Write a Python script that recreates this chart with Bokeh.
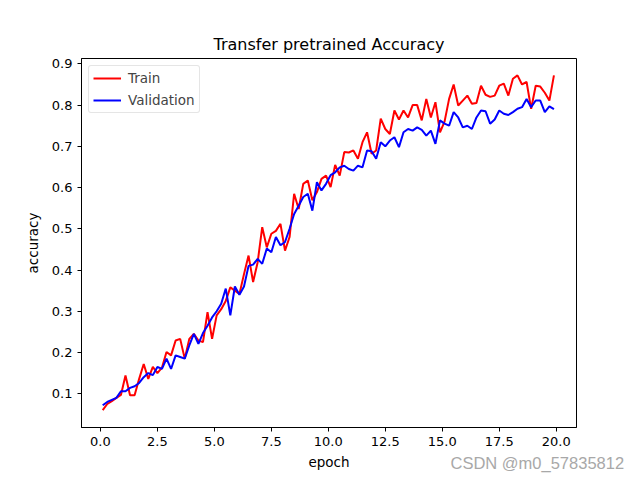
from bokeh.plotting import figure
from bokeh.models import Range1d, FixedTicker, PrintfTickFormatter, Title, Legend, LegendItem
from bokeh.embed import file_html
from bokeh.resources import INLINE

epochs = [round(0.1 + 0.2 * i, 1) for i in range(100)]

train_acc = [
    0.060, 0.075, 0.082, 0.090, 0.097, 0.144, 0.096, 0.096, 0.136, 0.172,
    0.136, 0.165, 0.150, 0.163, 0.201, 0.193, 0.229, 0.233, 0.185, 0.233,
    0.245, 0.229, 0.225, 0.298, 0.233, 0.290, 0.305, 0.325, 0.358, 0.350,
    0.342, 0.390, 0.435, 0.371, 0.419, 0.504, 0.455, 0.488, 0.495, 0.512,
    0.447, 0.480, 0.585, 0.548, 0.609, 0.617, 0.569, 0.589, 0.621, 0.629,
    0.601, 0.655, 0.629, 0.686, 0.685, 0.690, 0.670, 0.710, 0.734, 0.682,
    0.690, 0.767, 0.742, 0.730, 0.787, 0.765, 0.787, 0.770, 0.800, 0.800,
    0.763, 0.815, 0.770, 0.807, 0.734, 0.760, 0.815, 0.850, 0.799, 0.811,
    0.823, 0.803, 0.805, 0.847, 0.825, 0.820, 0.823, 0.847, 0.852, 0.823,
    0.864, 0.872, 0.850, 0.856, 0.791, 0.847, 0.845, 0.830, 0.811, 0.872,
]

val_acc = [
    0.072, 0.080, 0.085, 0.090, 0.106, 0.106, 0.114, 0.118, 0.126, 0.140,
    0.150, 0.145, 0.165, 0.160, 0.185, 0.160, 0.193, 0.189, 0.185, 0.217,
    0.245, 0.221, 0.247, 0.265, 0.285, 0.300, 0.318, 0.355, 0.290, 0.360,
    0.340, 0.360, 0.410, 0.413, 0.427, 0.415, 0.452, 0.443, 0.480, 0.460,
    0.468, 0.500, 0.536, 0.556, 0.577, 0.585, 0.544, 0.613, 0.593, 0.609,
    0.630, 0.637, 0.649, 0.653, 0.645, 0.641, 0.653, 0.649, 0.690, 0.688,
    0.670, 0.710, 0.700, 0.714, 0.722, 0.698, 0.734, 0.742, 0.738, 0.746,
    0.740, 0.726, 0.738, 0.706, 0.763, 0.755, 0.750, 0.783, 0.770, 0.746,
    0.750, 0.742, 0.770, 0.787, 0.785, 0.755, 0.765, 0.787, 0.779, 0.776,
    0.783, 0.791, 0.795, 0.815, 0.795, 0.811, 0.811, 0.783, 0.797, 0.790,
]

x_ticks = [0, 2.5, 5, 7.5, 10, 12.5, 15, 17.5, 20]
y_ticks = [0.1, 0.2, 0.3, 0.4, 0.5, 0.6, 0.7, 0.8, 0.9]

FONT = "DejaVu Sans"

p = figure(width=640, height=480, output_backend="svg", toolbar_location=None,
           x_range=Range1d(-0.83, 20.89), y_range=Range1d(0.018, 0.913),
           title="Transfer pretrained Accuracy")
p.min_border_left = 81
p.min_border_right = 64
p.min_border_top = 58
p.min_border_bottom = 53
p.background_fill_color = "white"
p.border_fill_color = "white"
p.outline_line_color = "black"
p.outline_line_alpha = 1.0
p.outline_line_width = 1
p.grid.visible = False

p.title.align = "center"
p.title.text_font = FONT
p.title.text_font_style = "normal"
p.title.text_font_size = "16px"
p.title.text_color = "black"
p.title.standoff = 9

for ax in (p.xaxis[0], p.yaxis[0]):
    ax.axis_line_color = "black"
    ax.major_tick_line_color = "black"
    ax.major_tick_in = 0
    ax.major_tick_out = 4
    ax.minor_tick_line_color = None
    ax.major_label_text_font = FONT
    ax.major_label_text_font_size = "13px"
    ax.major_label_text_color = "black"
    ax.axis_label_text_font = FONT
    ax.axis_label_text_font_size = "13.5px"
    ax.axis_label_text_font_style = "normal"
    ax.axis_label_text_color = "black"

p.xaxis.ticker = FixedTicker(ticks=x_ticks)
p.yaxis.ticker = FixedTicker(ticks=y_ticks)
p.xaxis.formatter = PrintfTickFormatter(format="%.1f")
p.yaxis.formatter = PrintfTickFormatter(format="%.1f")
p.xaxis.axis_label = "epoch"
p.yaxis.axis_label = "accuracy"
p.xaxis.major_label_standoff = 5
p.yaxis.major_label_standoff = 5
p.xaxis.axis_label_standoff = 5
p.yaxis.axis_label_standoff = 8

r_train = p.line(epochs, train_acc, line_color="#ff0000", line_width=2)
r_val = p.line(epochs, val_acc, line_color="#0000ff", line_width=2)

legend = Legend(items=[LegendItem(label="Train", renderers=[r_train]),
                       LegendItem(label="Validation", renderers=[r_val])],
                location="top_left")
legend.margin = 7
legend.padding = 4
legend.spacing = 6
legend.glyph_width = 28
legend.glyph_height = 16
legend.label_height = 16
legend.label_standoff = 7
legend.label_text_font = FONT
legend.label_text_font_size = "13.5px"
legend.border_line_color = "#cccccc"
legend.border_line_width = 1
legend.border_radius = 3
legend.background_fill_alpha = 0.8
p.add_layout(legend)

wm = Title(text="CSDN @m0_57835812", align="left", offset=369, standoff=-38,
           vertical_align="top",
           text_font="Liberation Sans", text_font_size="16.5px",
           text_font_style="normal", text_color="#a8a8a8")
p.add_layout(wm, "below")

open("out.html", "w").write(file_html(p, INLINE))
